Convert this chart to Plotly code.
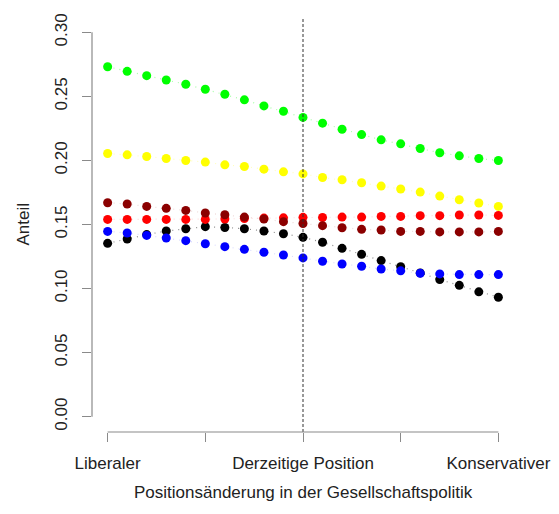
import plotly.graph_objects as go

positions = [-1.0, -0.9, -0.8, -0.7, -0.6, -0.5, -0.4, -0.3, -0.2, -0.1, 0.0,
             0.1, 0.2, 0.3, 0.4, 0.5, 0.6, 0.7, 0.8, 0.9, 1.0]

green = [0.2732, 0.2696, 0.2662, 0.2628, 0.2595, 0.2556, 0.2517, 0.2473, 0.2426, 0.2384, 0.2336,
         0.2291, 0.2244, 0.2202, 0.2161, 0.2130, 0.2093, 0.2060, 0.2036, 0.2015, 0.2000]
yellow = [0.2054, 0.2044, 0.2031, 0.2015, 0.2000, 0.1987, 0.1966, 0.1953, 0.1932, 0.1911, 0.1895,
          0.1867, 0.1849, 0.1826, 0.1800, 0.1777, 0.1753, 0.1722, 0.1693, 0.1668, 0.1641]
darkred = [0.1670, 0.1660, 0.1641, 0.1626, 0.1610, 0.1590, 0.1576, 0.1558, 0.1543, 0.1522, 0.1508,
           0.1491, 0.1475, 0.1462, 0.1457, 0.1446, 0.1446, 0.1442, 0.1442, 0.1442, 0.1446]
red = [0.1540, 0.1540, 0.1540, 0.1540, 0.1540, 0.1540, 0.1543, 0.1547, 0.1550, 0.1552, 0.1556,
       0.1555, 0.1558, 0.1558, 0.1563, 0.1563, 0.1569, 0.1569, 0.1574, 0.1574, 0.1571]
black = [0.1353, 0.1387, 0.1421, 0.1449, 0.1467, 0.1483, 0.1477, 0.1467, 0.1449, 0.1428, 0.1400,
         0.1361, 0.1314, 0.1267, 0.1218, 0.1171, 0.1122, 0.1070, 0.1025, 0.0974, 0.0932]
blue = [0.1446, 0.1434, 0.1415, 0.1395, 0.1374, 0.1350, 0.1327, 0.1306, 0.1283, 0.1262, 0.1239,
        0.1213, 0.1192, 0.1174, 0.1153, 0.1138, 0.1119, 0.1114, 0.1109, 0.1109, 0.1109]

x_tickvals = [-1.0, -0.5, 0.0, 0.5, 1.0]
x_ticktext = ["Liberaler", "", "Derzeitige Position", "", "Konservativer"]
y_tickvals = [0.00, 0.05, 0.10, 0.15, 0.20, 0.25, 0.30]
y_ticktext = ["0.00", "0.05", "0.10", "0.15", "0.20", "0.25", "0.30"]

series = [
    ("black", black, "#000000", "rgba(0,0,0,0.45)"),
    ("blue", blue, "#0000FF", "rgba(0,0,255,0.15)"),
    ("red", red, "#FF0000", "rgba(255,0,0,0.15)"),
    ("darkred", darkred, "#8B0000", "rgba(139,0,0,0.15)"),
    ("yellow", yellow, "#FFFF00", "rgba(255,255,0,0.25)"),
    ("green", green, "#00FF00", "rgba(0,255,0,0.35)"),
]

FONT = "Liberation Sans, Arial, sans-serif"
AX = "#8a8a8a"

fig = go.Figure()
for name, vals, col, lcol in series:
    fig.add_trace(go.Scatter(
        x=positions, y=vals, mode="lines+markers", name=name,
        line=dict(color=lcol, width=1.2, dash="1px,5px"),
        marker=dict(color=col, size=9, line=dict(width=0)),
        showlegend=False,
    ))

# dashed vertical line at current position
fig.add_shape(type="line", xref="x", yref="paper", x0=0, x1=0, y0=0, y1=1,
              line=dict(color="#333333", width=1, dash="3px,2px"))
# R-style axis lines spanning tick range
fig.add_shape(type="line", xref="x", yref="paper", x0=x_tickvals[0], x1=x_tickvals[-1],
              y0=0, y1=0, line=dict(color=AX, width=1.2))
fig.add_shape(type="line", xref="paper", yref="y", x0=0, x1=0,
              y0=y_tickvals[0], y1=y_tickvals[-1], line=dict(color=AX, width=1.2))

fig.update_xaxes(range=[-1.08, 1.08], tickvals=x_tickvals, ticktext=x_ticktext,
                 ticks="outside", ticklen=9, tickcolor=AX, tickwidth=1.2,
                 showgrid=False, zeroline=False, showline=False, ticklabelstandoff=7,
                 automargin=False,
                 tickfont=dict(family=FONT, size=17, color="#222222"))
fig.update_yaxes(range=[-0.012, 0.312], tickvals=y_tickvals, ticktext=y_ticktext,
                 ticks="outside", ticklen=9, tickcolor=AX, tickwidth=1.2,
                 showgrid=False, zeroline=False, showline=False, tickangle=-90,
                 ticklabelstandoff=8, automargin=False,
                 tickfont=dict(family=FONT, size=17, color="#222222"))

fig.add_annotation(text="Positionsänderung in der Gesellschaftspolitik",
                   xref="paper", yref="paper", x=0.5, y=0, yanchor="middle",
                   yshift=-60, showarrow=False,
                   font=dict(family=FONT, size=17, color="#222222"))
fig.add_annotation(text="Anteil", xref="paper", yref="paper", x=0, y=0.5,
                   xanchor="center", xshift=-69, textangle=-90, showarrow=False,
                   font=dict(family=FONT, size=17, color="#222222"))

fig.update_layout(width=559, height=514, margin=dict(l=92, r=45, t=17, b=82),
                  plot_bgcolor="white", paper_bgcolor="white")

fig.write_html("out.html")
